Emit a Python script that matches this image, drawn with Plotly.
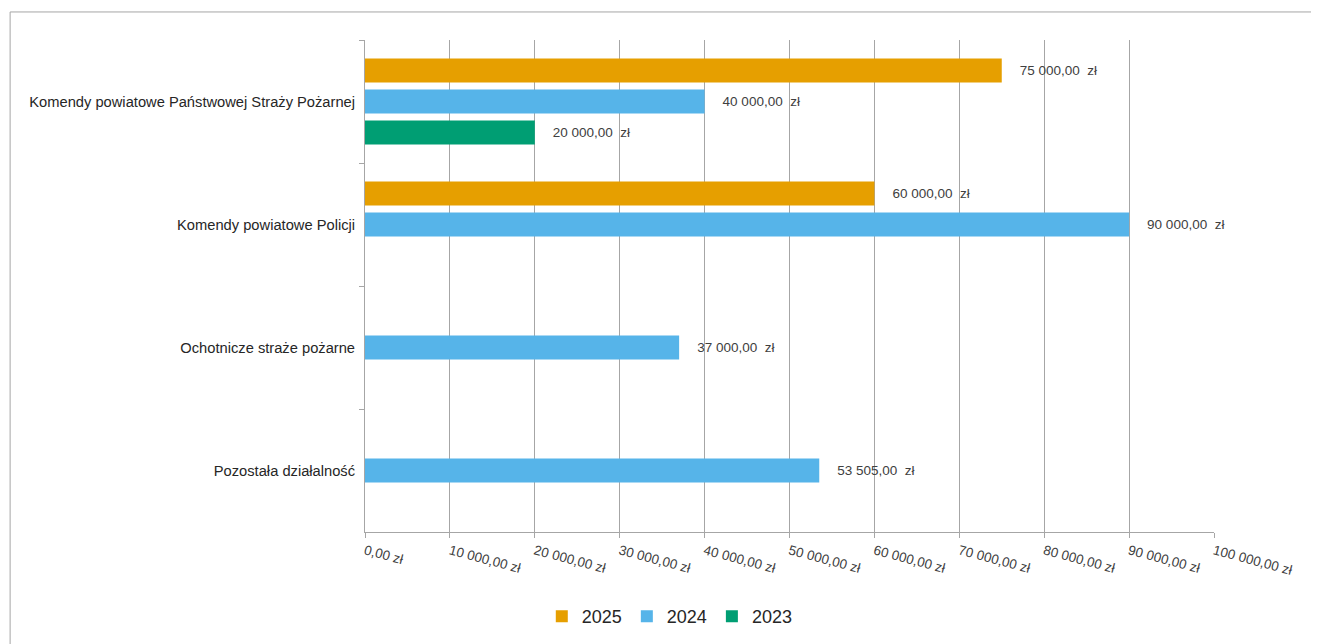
import plotly.graph_objects as go

categories = [
    "Komendy powiatowe Państwowej Straży Pożarnej",
    "Komendy powiatowe Policji",
    "Ochotnicze straże pożarne",
    "Pozostała działalność",
]
values_2025 = [75000, 60000, None, None]
values_2024 = [40000, 90000, 37000, 53505]
values_2023 = [20000, None, None, None]

tick_values = [0, 10000, 20000, 30000, 40000, 50000, 60000, 70000, 80000, 90000, 100000]


def pln(v, sep=" "):
    if v is None:
        return ""
    s = f"{v:,.2f}".replace(",", " ").replace(".", ",")
    return s + sep + "zł"


tick_labels = [pln(v) for v in tick_values]

series = [
    ("2025", values_2025, "#E69F00"),
    ("2024", values_2024, "#56B4E9"),
    ("2023", values_2023, "#009E73"),
]

fig = go.Figure()
for name, vals, color in series:
    fig.add_trace(go.Bar(
        name=name,
        y=categories,
        x=vals,
        orientation="h",
        marker=dict(color=color, line=dict(width=0)),
        text=["    " + pln(v, "  ") if v is not None else "" for v in vals],
        textposition="outside",
        cliponaxis=False,
        textfont=dict(size=13.5, color="#404040"),
    ))

# page body has an 8px margin, so the figure is 8px smaller on each side
fig.update_layout(
    width=1311,
    height=636,
    barmode="group",
    bargap=0.245,
    bargroupgap=0.226,
    plot_bgcolor="white",
    paper_bgcolor="white",
    font=dict(family="Liberation Sans, Arial, sans-serif", size=13, color="#404040"),
    margin=dict(l=357, r=105, t=32, b=112),
    showlegend=True,
    legend=dict(
        orientation="h",
        x=0.359, xanchor="center",
        yref="container",
        y=0.043, yanchor="middle",
        font=dict(size=18, color="#262626"),
        itemwidth=30,
        traceorder="normal",
    ),
)

fig.update_xaxes(
    range=[0, 100000],
    tickvals=tick_values,
    ticktext=tick_labels,
    tickangle=15,
    showgrid=True,
    gridcolor="#A6A6A6",
    gridwidth=1,
    showline=True,
    linecolor="#A6A6A6",
    ticks="outside",
    ticklen=5,
    tickcolor="#A6A6A6",
    tickfont=dict(size=13.5, color="#404040"),
    zeroline=False,
)

fig.update_yaxes(
    autorange="reversed",
    showgrid=False,
    showline=True,
    linecolor="#A6A6A6",
    ticks="outside",
    tickson="boundaries",
    ticklen=5,
    tickcolor="#A6A6A6",
    tickfont=dict(size=14.7, color="#262626"),
    ticklabelstandoff=6,
)

# outer chart border
fig.add_shape(
    type="rect", xref="paper", yref="paper",
    x0=-0.418, x1=1.12, y0=-0.3, y1=1.057,
    line=dict(color="#A6A6A6", width=1),
    fillcolor="rgba(0,0,0,0)",
    layer="below",
)

fig.write_html("out.html")
